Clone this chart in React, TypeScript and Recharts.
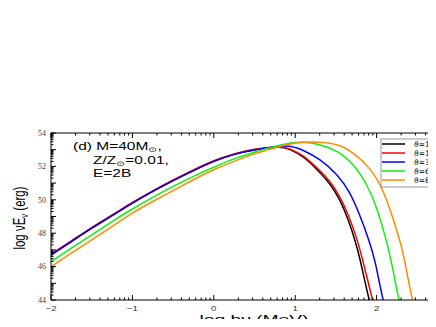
import { Line, LineChart, XAxis, YAxis } from "recharts";

// Spectrum of a 40 Msun, Z/Zsun=0.01, E=2B model seen at several viewing angles.
// Values (log hν in MeV vs log νEν in erg).

const SERIES = ["ϑ=1°", "ϑ=10°", "ϑ=30°", "ϑ=60°", "ϑ=80°"];
const COLORS = ["#000000", "#ff0000", "#0000ff", "#11ee11", "#ff8a00"];

const RISE_X = [-2, -1.75, -1.5, -1.25, -1, -0.75, -0.5, -0.25, 0, 0.25, 0.5];

const THETA1_X = [...RISE_X, 0.78, 0.93, 1.1, 1.26, 1.425, 1.55, 1.65, 1.735, 1.8, 1.876, 1.95];
const THETA1_Y = [46.7, 47.5, 48.3, 49.05, 49.8, 50.5, 51.15, 51.75, 52.3, 52.72, 53.0,
  53.15, 53.02, 52.55, 51.85, 50.95, 49.95, 48.8, 47.55, 46.35, 44.7, 43.2];

const THETA10_X = [...RISE_X, 0.78, 0.93, 1.1, 1.26, 1.425, 1.55, 1.65, 1.75, 1.82, 1.9, 1.975];
const THETA10_Y = [46.74, 47.54, 48.34, 49.09, 49.84, 50.54, 51.19, 51.79, 52.34, 52.75, 53.02,
  53.16, 53.05, 52.62, 51.95, 51.1, 50.15, 49.1, 47.75, 46.55, 45.0, 43.5];

const THETA30_X = [...RISE_X, 0.87, 1.1, 1.3, 1.51, 1.67, 1.79, 1.896, 1.98, 2.04, 2.1, 2.15];
const THETA30_Y = [46.7, 47.5, 48.3, 49.05, 49.8, 50.5, 51.15, 51.75, 52.3, 52.72, 52.98,
  53.22, 52.95, 52.4, 51.5, 50.4, 49.1, 47.7, 46.3, 44.9, 43.6, 42.6];

const THETA60_X = [...RISE_X, 0.75, 0.95, 1.1, 1.3, 1.51, 1.71, 1.876, 2.0, 2.1, 2.18, 2.245, 2.3];
const THETA60_Y = [46.3, 47.1, 47.9, 48.7, 49.45, 50.15, 50.8, 51.4, 51.95, 52.45, 52.85,
  53.2, 53.4, 53.45, 53.3, 52.9, 52.1, 50.9, 49.5, 47.9, 46.3, 44.7, 43.5];

const THETA80_X = [...RISE_X, 0.69, 0.89, 1.1, 1.3, 1.51, 1.71, 1.916, 2.08, 2.2, 2.31, 2.39, 2.45, 2.5];
const THETA80_Y = [46.0, 46.8, 47.6, 48.4, 49.2, 49.9, 50.55, 51.2, 51.8, 52.3, 52.75,
  53.02, 53.3, 53.45, 53.45, 53.3, 52.8, 51.85, 50.5, 48.9, 47.1, 45.2, 43.8, 42.6];

const X_MAJOR = [-2, -1, 0, 1, 2, 3];
const X_LABELED = [-2, -1, 0, 1, 2];
const X_LABELS = ["−2", "−1", "0", "1", "2"];
const Y_MAJOR = [44, 45, 46, 47, 48, 49, 50, 51, 52, 53, 54];
const Y_LABELED = [44, 46, 48, 50, 52, 54];
const MINOR_STEPS = [0.301, 0.477, 0.602, 0.699, 0.778, 0.845, 0.903, 0.954];

const zip = (xs: number[], ys: number[]) => xs.map((x, i) => ({ x, y: ys[i] }));
const withMinor = (major: number[]) => [
  ...major,
  ...major.slice(0, -1).flatMap((m) => MINOR_STEPS.map((s) => m + s)),
];

const LINES = [
  zip(THETA1_X, THETA1_Y),
  zip(THETA10_X, THETA10_Y),
  zip(THETA30_X, THETA30_Y),
  zip(THETA60_X, THETA60_Y),
  zip(THETA80_X, THETA80_Y),
];

const X_TICKS = withMinor(X_MAJOR);
const Y_TICKS = withMinor(Y_MAJOR);

const SANS = "Liberation Sans, Arial, DejaVu Sans, sans-serif";

function BottomTick({ x, y, payload }: any) {
  const v = payload.value;
  const major = Number.isInteger(v);
  const li = X_LABELED.indexOf(v);
  return (
    <g>
      <line x1={x} x2={x} y1={y} y2={y - (major ? 5 : 2.5)} stroke="#000" />
      {li >= 0 && (
        <text
          transform={`translate(${x} ${y + 10.5}) scale(1.3 1)`}
          textAnchor="middle"
          fontSize={7.5}
          fontFamily={SANS}
          fill="#333"
        >
          {X_LABELS[li]}
        </text>
      )}
    </g>
  );
}

function TopTick({ x, y, payload }: any) {
  const major = Number.isInteger(payload.value);
  return <line x1={x} x2={x} y1={y} y2={y + (major ? 5 : 2.5)} stroke="#000" />;
}

function LeftTick({ x, y, payload }: any) {
  const v = payload.value;
  const major = Number.isInteger(v);
  return (
    <g>
      <line x1={x} x2={x + (major ? 5 : 2.5)} y1={y} y2={y} stroke="#000" />
      {Y_LABELED.includes(v) && (
        <text
          x={x - 5}
          y={y + 2.8}
          textAnchor="end"
          fontSize={8}
          fontFamily="Liberation Serif, Times New Roman, serif"
          fill="#444"
        >
          {v}
        </text>
      )}
    </g>
  );
}

export default function App() {
  return (
    <div
      style={{
        position: "relative",
        width: 428,
        height: 319,
        marginBottom: -8,
        overflow: "hidden",
        background: "#fff",
      }}
    >
      <LineChart width={470} height={319} margin={{ top: 124, right: 20, bottom: 7, left: 0 }}>
        <XAxis
          xAxisId="b"
          type="number"
          dataKey="x"
          domain={[-2, 3]}
          ticks={X_TICKS}
          interval={0}
          tickSize={0}
          tickMargin={0}
          height={20}
          tickLine={false}
          axisLine={{ stroke: "#000" }}
          tick={(p: any) => <BottomTick {...p} />}
          allowDataOverflow
        />
        <XAxis
          xAxisId="t"
          orientation="top"
          type="number"
          dataKey="x"
          domain={[-2, 3]}
          ticks={X_TICKS}
          interval={0}
          tickSize={0}
          tickMargin={0}
          height={1}
          tickLine={false}
          axisLine={{ stroke: "#000" }}
          tick={(p: any) => <TopTick {...p} />}
          allowDataOverflow
        />
        <YAxis
          yAxisId="l"
          type="number"
          domain={[44, 54]}
          ticks={Y_TICKS}
          interval={0}
          tickSize={0}
          tickMargin={0}
          width={43}
          tickLine={false}
          axisLine={{ stroke: "#000" }}
          tick={(p: any) => <LeftTick {...p} />}
          allowDataOverflow
        />
        {LINES.map((data, i) => (
          <Line
            key={SERIES[i]}
            xAxisId="b"
            yAxisId="l"
            data={data}
            dataKey="y"
            type="natural"
            stroke={COLORS[i]}
            strokeWidth={1.5}
            dot={false}
            isAnimationActive={false}
          />
        ))}
      </LineChart>

      <svg
        width={428}
        height={319}
        style={{ position: "absolute", left: 0, top: 0, pointerEvents: "none" }}
      >
        <g fontFamily={SANS} fill="#000" fontSize={10}>
          <text transform="translate(65 142) scale(1.55 1)">
            (d) M=40M<tspan fontSize={7} dy={2}>⊙</tspan><tspan dy={-2}>,</tspan>
          </text>
          <text transform="translate(85 156) scale(1.55 1)">
            Z/Z<tspan fontSize={7} dy={2}>⊙</tspan><tspan dy={-2}>=0.01,</tspan>
          </text>
          <text transform="translate(85 169) scale(1.55 1)">E=2B</text>
        </g>

        <text
          transform="translate(246 315) scale(1.75 1)"
          textAnchor="middle"
          fontFamily={SANS}
          fontSize={11}
        >
          log hν (MeV)
        </text>
        <text
          transform="translate(11 210) rotate(-90) scale(1 1.45)"
          textAnchor="middle"
          fontFamily={SANS}
          fontSize={11.5}
          y={4}
        >
          log νE<tspan fontSize={7.5} dy={2.5}>ν</tspan><tspan dy={-2.5}> (erg)</tspan>
        </text>

        <g transform="translate(373 131)">
          <rect x={0} y={0} width={80} height={48} fill="#fff" stroke="#999" />
          {SERIES.map((name, i) => (
            <g key={name} transform={`translate(0 ${5 + i * 9})`}>
              <line x1={1} x2={24} y1={0} y2={0} stroke={COLORS[i]} strokeWidth={1.5} />
              <text x={33} y={3} fontSize={7.5} fontFamily="DejaVu Sans, sans-serif" fill="#000">
                {name}
              </text>
            </g>
          ))}
        </g>
      </svg>
    </div>
  );
}
